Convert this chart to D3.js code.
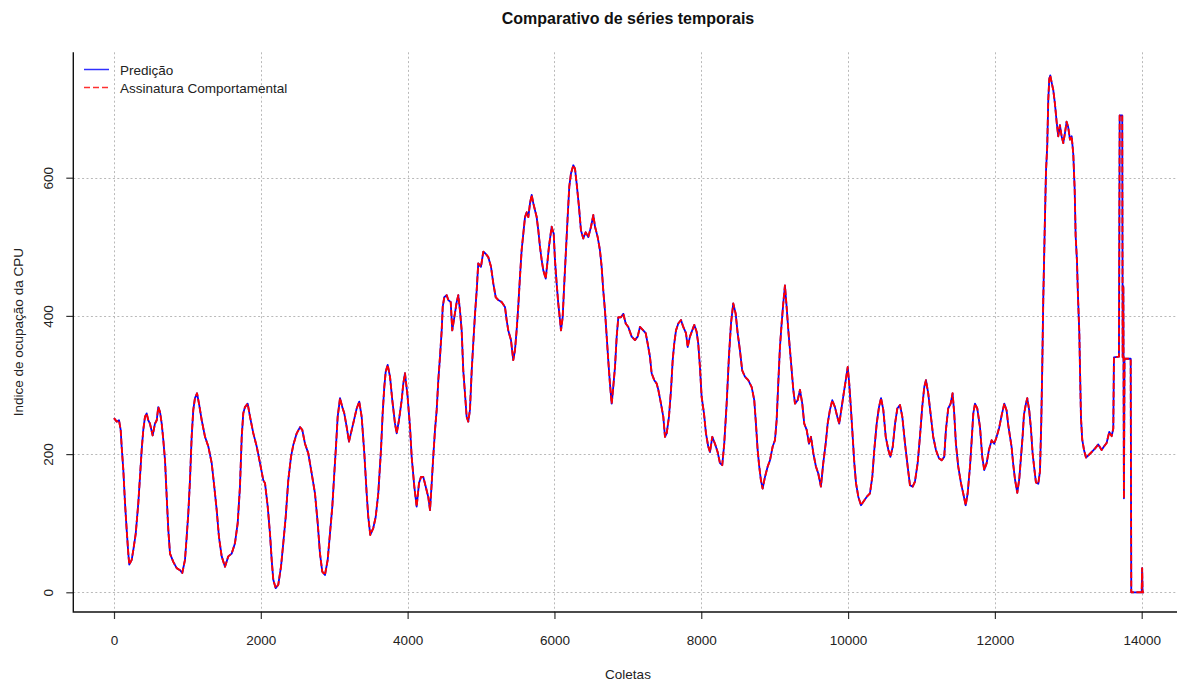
<!DOCTYPE html>
<html>
<head>
<meta charset="utf-8">
<script src="https://cdn.jsdelivr.net/npm/d3@7"></script>
<style>
  html, body { margin: 0; padding: 0; background: #ffffff; }
  svg { display: block; font-family: "Liberation Sans", Arial, Helvetica, sans-serif; }
</style>
</head>
<body>
<svg id="chart" width="1177" height="682"></svg>
<script>
// Índice de coleta (eixo x) e valores de ocupação da CPU em cada ponto amostrado
const coletas = [
  0, 37, 68, 91, 105, 127, 150, 173, 195, 208,
  241, 263, 296, 331, 354, 377, 399, 422, 445, 467,
  490, 527, 558, 582, 603, 627, 650, 672, 695, 718,
  740, 763, 808, 854, 899, 930, 967, 990, 1012, 1035,
  1058, 1080, 1103, 1131, 1158, 1195, 1240, 1285, 1331, 1366,
  1399, 1430, 1467, 1512, 1557, 1603, 1648, 1685, 1716, 1740,
  1761, 1784, 1821, 1853, 1898, 1944, 1989, 2034, 2057, 2094,
  2125, 2148, 2170, 2203, 2238, 2275, 2306, 2339, 2374, 2411,
  2442, 2489, 2534, 2565, 2602, 2647, 2693, 2738, 2775, 2806,
  2837, 2874, 2911, 2942, 2974, 3001, 3024, 3047, 3079, 3110,
  3137, 3170, 3201, 3238, 3269, 3306, 3341, 3374, 3410, 3442,
  3464, 3491, 3532, 3565, 3600, 3637, 3660, 3682, 3701, 3728,
  3760, 3791, 3828, 3851, 3882, 3919, 3941, 3964, 3998, 4032,
  4055, 4091, 4123, 4155, 4182, 4213, 4246, 4281, 4305, 4328,
  4349, 4373, 4396, 4418, 4441, 4464, 4478, 4499, 4532, 4554,
  4587, 4608, 4636, 4668, 4690, 4713, 4736, 4758, 4781, 4804,
  4826, 4849, 4873, 4894, 4918, 4941, 4962, 4999, 5031, 5063,
  5099, 5136, 5167, 5200, 5235, 5281, 5326, 5349, 5371, 5408,
  5439, 5462, 5485, 5507, 5530, 5553, 5576, 5599, 5622, 5644,
  5667, 5690, 5712, 5735, 5758, 5780, 5803, 5826, 5848, 5881,
  5903, 5925, 5949, 5962, 5990, 6007, 6030, 6052, 6076, 6089,
  6112, 6134, 6157, 6180, 6202, 6225, 6257, 6280, 6303, 6334,
  6361, 6393, 6425, 6461, 6498, 6530, 6553, 6589, 6620, 6643,
  6665, 6688, 6712, 6733, 6756, 6780, 6801, 6825, 6848, 6870,
  6906, 6938, 6971, 7006, 7052, 7097, 7134, 7165, 7210, 7243,
  7270, 7301, 7324, 7360, 7393, 7415, 7451, 7483, 7506, 7529,
  7560, 7588, 7611, 7632, 7656, 7687, 7724, 7755, 7792, 7815,
  7846, 7877, 7905, 7937, 7959, 7982, 8005, 8037, 8064, 8095,
  8119, 8150, 8187, 8223, 8255, 8286, 8313, 8346, 8377, 8405,
  8436, 8469, 8496, 8527, 8558, 8595, 8640, 8687, 8722, 8745,
  8768, 8790, 8813, 8836, 8868, 8905, 8936, 8973, 9004, 9027,
  9049, 9072, 9095, 9117, 9140, 9163, 9186, 9209, 9232, 9254,
  9277, 9313, 9345, 9376, 9403, 9436, 9468, 9495, 9527, 9562,
  9594, 9630, 9662, 9695, 9722, 9753, 9785, 9821, 9853, 9880,
  9913, 9948, 9976, 9995, 10016, 10040, 10063, 10085, 10108, 10140,
  10176, 10208, 10253, 10298, 10330, 10357, 10390, 10421, 10449, 10480,
  10513, 10549, 10576, 10609, 10640, 10671, 10707, 10739, 10776, 10812,
  10843, 10880, 10911, 10948, 10979, 11010, 11038, 11061, 11092, 11129,
  11160, 11197, 11238, 11275, 11310, 11333, 11364, 11397, 11424, 11446,
  11469, 11501, 11538, 11569, 11602, 11629, 11661, 11684, 11706, 11729,
  11760, 11797, 11828, 11855, 11888, 11919, 11956, 11991, 12024, 12060,
  12092, 12128, 12160, 12182, 12205, 12228, 12250, 12273, 12305, 12332,
  12355, 12378, 12396, 12423, 12441, 12468, 12491, 12514, 12536, 12559,
  12591, 12614, 12632, 12645, 12659, 12678, 12696, 12713, 12727, 12741,
  12754, 12773, 12795, 12818, 12841, 12863, 12886, 12909, 12932, 12955,
  12977, 12999, 13023, 13046, 13068, 13087, 13100, 13118, 13132, 13150,
  13163, 13173, 13190, 13214, 13241, 13272, 13318, 13363, 13408, 13454,
  13486, 13522, 13558, 13591, 13613, 13622, 13690, 13700, 13735, 13741,
  13750, 13758, 13766, 13850, 13858, 14000, 14006, 14012, 14030
];

// Assinatura comportamental (ocupação da CPU)
const assinatura = [
  252, 247, 249, 235, 210, 177, 129, 90, 56, 40,
  47, 61, 85, 129, 167, 206, 235, 254, 259, 249,
  244, 227, 244, 249, 268, 261, 244, 220, 191, 138,
  90, 56, 44, 35, 32, 28, 47, 80, 114, 162,
  225, 264, 281, 288, 273, 249, 225, 211, 187, 153,
  119, 80, 52, 37, 52, 56, 71, 100, 153, 225,
  259, 268, 273, 254, 230, 211, 187, 162, 158, 124,
  85, 47, 18, 6, 11, 37, 71, 109, 162, 196,
  213, 230, 239, 235, 215, 201, 172, 143, 100, 56,
  30, 25, 47, 85, 124, 172, 211, 254, 281, 268,
  259, 239, 218, 235, 249, 266, 276, 254, 201, 143,
  109, 83, 93, 109, 143, 206, 259, 297, 319, 329,
  312, 278, 244, 230, 249, 278, 302, 317, 285, 240,
  196, 153, 124, 158, 167, 167, 153, 138, 119, 158,
  196, 235, 264, 307, 341, 379, 413, 427, 430, 423,
  420, 379, 398, 420, 430, 408, 379, 321, 288, 254,
  247, 264, 321, 360, 403, 437, 476, 471, 493, 490,
  485, 471, 447, 427, 423, 420, 413, 394, 379, 365,
  336, 350, 379, 413, 456, 495, 519, 543, 550, 543,
  563, 575, 563, 553, 543, 524, 500, 481, 466, 454,
  476, 500, 519, 529, 519, 481, 447, 418, 394, 379,
  398, 447, 495, 543, 587, 606, 618, 613, 591, 558,
  524, 512, 521, 514, 529, 546, 529, 514, 495, 471,
  437, 408, 370, 336, 302, 273, 297, 326, 370, 398,
  398, 403, 389, 384, 370, 365, 370, 384, 379, 375,
  360, 341, 317, 307, 302, 293, 273, 254, 225, 230,
  254, 293, 336, 360, 379, 389, 394, 384, 375, 355,
  370, 379, 387, 377, 360, 326, 283, 259, 230, 211,
  203, 225, 215, 203, 187, 184, 215, 273, 341, 389,
  418, 403, 375, 350, 321, 312, 307, 297, 278, 244,
  206, 182, 162, 150, 167, 182, 191, 211, 220, 249,
  302, 355, 389, 418, 444, 413, 379, 350, 321, 293,
  273, 278, 293, 273, 244, 235, 215, 225, 201, 182,
  172, 153, 187, 215, 244, 264, 278, 268, 254, 244,
  268, 293, 312, 326, 302, 264, 225, 187, 158, 138,
  126, 131, 138, 143, 167, 206, 244, 268, 281, 264,
  225, 206, 196, 211, 244, 266, 271, 254, 215, 182,
  155, 153, 160, 187, 225, 268, 297, 307, 288, 254,
  225, 206, 194, 191, 196, 235, 266, 273, 288, 259,
  215, 182, 158, 143, 126, 143, 182, 220, 259, 273,
  266, 239, 196, 177, 187, 206, 220, 215, 225, 239,
  256, 273, 263, 242, 226, 210, 185, 164, 144, 164,
  195, 226, 257, 273, 281, 263, 237, 201, 180, 159,
  157, 175, 247, 324, 423, 521, 609, 645, 712, 743,
  748, 738, 727, 707, 681, 660, 676, 660, 650, 665,
  681, 673, 655, 660, 634, 583, 516, 480, 428, 376,
  304, 252, 221, 206, 195, 198, 203, 208, 214, 206,
  211, 216, 232, 226, 237, 340, 341, 690, 690, 340,
  443, 136, 338, 338, 0, 0, 35, 0, 0
];

// Predição: acompanha a assinatura em todos os pontos amostrados
const predicao = assinatura;

const xTicks = [0, 2000, 4000, 6000, 8000, 10000, 12000, 14000];
const yTicks = [0, 200, 400, 600];

const titulo = "Comparativo de séries temporais";
const rotuloX = "Coletas";
const rotuloY = "Indice de ocupação da CPU";
const legenda = ["Predição", "Assinatura Comportamental"];

const W = 1177, H = 682;
const plot = { left: 73.3, top: 52.3, bottom: 612, right: W };

const svg = d3.select("#chart");
svg.append("rect").attr("width", W).attr("height", H).attr("fill", "#fff");

const x = d3.scaleLinear().domain([0, 14000]).range([114, 1141.7]);
const y = d3.scaleLinear().domain([0, 600]).range([592.3, 177.7]);

// grade pontilhada
const grid = svg.append("g").attr("stroke", "#b9b9b9").attr("stroke-width", 1)
  .attr("stroke-dasharray", "2,2.4").attr("fill", "none");
grid.selectAll("line.v").data(xTicks).join("line").attr("class", "v")
  .attr("x1", d => Math.round(x(d)) + 0.5).attr("x2", d => Math.round(x(d)) + 0.5)
  .attr("y1", plot.top).attr("y2", plot.bottom);
grid.selectAll("line.h").data(yTicks).join("line").attr("class", "h")
  .attr("y1", d => Math.round(y(d)) + 0.5).attr("y2", d => Math.round(y(d)) + 0.5)
  .attr("x1", plot.left).attr("x2", plot.right);

// séries
svg.append("clipPath").attr("id", "area")
  .append("rect").attr("x", plot.left).attr("y", plot.top)
  .attr("width", plot.right - plot.left).attr("height", plot.bottom - plot.top);

const linha = vals => d3.line()
  .x((d, i) => x(coletas[i]))
  .y((d, i) => y(vals[i]))(vals);

const series = svg.append("g").attr("clip-path", "url(#area)").attr("fill", "none")
  .attr("stroke-linejoin", "round");
series.append("path").attr("d", linha(predicao))
  .attr("stroke", "#0000ff").attr("stroke-width", 1.8);
series.append("path").attr("d", linha(assinatura))
  .attr("stroke", "#ff0000").attr("stroke-width", 1.9)
  .attr("stroke-dasharray", "6,2.5");

// eixos
const fonte = 13.5;
const eixoX = svg.append("g").attr("transform", `translate(0,${plot.bottom})`)
  .call(d3.axisBottom(x).tickValues(xTicks).tickSize(7).tickSizeOuter(0).tickFormat(d3.format("d")));
eixoX.select(".domain").remove();
eixoX.selectAll(".tick line").attr("stroke", "#333").attr("stroke-width", 1.2);
eixoX.selectAll(".tick text").attr("y", 32.5).attr("dy", null)
  .attr("font-size", fonte).attr("fill", "#222").attr("font-family", null);

const eixoY = svg.append("g").attr("transform", `translate(${plot.left},0)`)
  .call(d3.axisLeft(y).tickValues(yTicks).tickSize(7).tickSizeOuter(0).tickFormat(d3.format("d")));
eixoY.select(".domain").remove();
eixoY.selectAll(".tick line").attr("stroke", "#333").attr("stroke-width", 1.2);
eixoY.selectAll(".tick text").attr("x", null).attr("dy", null)
  .attr("transform", "translate(-20,0) rotate(-90)")
  .attr("text-anchor", "middle").attr("font-size", fonte).attr("fill", "#222").attr("font-family", null);

// moldura em L
svg.append("path")
  .attr("d", `M${plot.left},${plot.top}V${plot.bottom}H${plot.right}`)
  .attr("fill", "none").attr("stroke", "#111").attr("stroke-width", 1.4);

// títulos
svg.append("text").attr("x", 628).attr("y", 24).attr("text-anchor", "middle")
  .attr("font-size", 16).attr("font-weight", "bold").attr("fill", "#111").text(titulo);
svg.append("text").attr("x", 628).attr("y", 679).attr("text-anchor", "middle")
  .attr("font-size", fonte).attr("fill", "#222").text(rotuloX);
svg.append("text").attr("transform", `translate(23,${(plot.top + plot.bottom) / 2}) rotate(-90)`)
  .attr("text-anchor", "middle").attr("font-size", fonte).attr("fill", "#222").text(rotuloY);

// legenda
const leg = svg.append("g");
const cores = ["#3030ff", "#ff3030"];
const tracos = [null, "6,3"];
legenda.forEach((nome, i) => {
  const yy = 69.5 + i * 18;
  leg.append("line").attr("x1", 84).attr("x2", 109).attr("y1", yy).attr("y2", yy)
    .attr("stroke", cores[i]).attr("stroke-width", 1.5).attr("stroke-dasharray", tracos[i]);
  leg.append("text").attr("x", 120).attr("y", yy + 5.5).attr("font-size", fonte)
    .attr("fill", "#222").text(nome);
});
</script>
</body>
</html>
